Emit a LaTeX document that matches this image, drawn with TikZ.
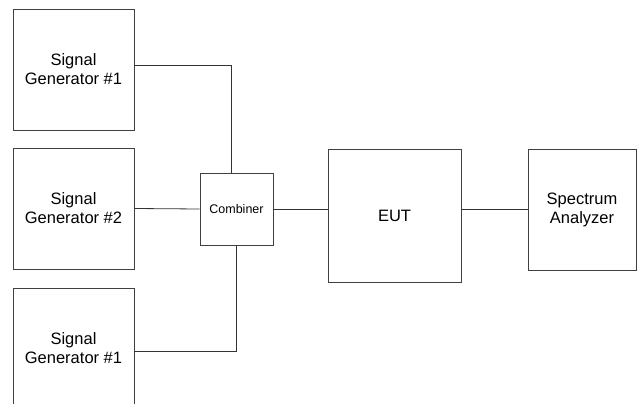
\documentclass[tikz,border=0pt]{standalone}
\usepackage{fontspec}
\setmainfont{Liberation Sans}

\begin{document}
\begin{tikzpicture}[x=1pt, y=-1pt,
      box/.style = {shape=rectangle, draw=black!75, line width=0.8pt,
        align=center, inner sep=0pt,
        font=\fontsize{16.5}{19}\selectfont},
      wire/.style = {draw=black!80, line width=0.8pt}]
      \useasboundingbox (0,0) rectangle (637,404);
      \clip (0,0) rectangle (637,404);
      \node[box, minimum width=121pt, minimum height=121pt] (gen1) at (73.5,69.5) {Signal\\Generator \#1};
      \node[box, minimum width=121pt, minimum height=121pt] (gen2) at (73.5,208.5) {Signal\\Generator \#2};
      \node[box, minimum width=121pt, minimum height=121pt] (gen3) at (73.5,348.5) {Signal\\Generator \#1};
      \node[box, minimum width=73pt, minimum height=72pt,
        font=\fontsize{12.5}{15}\selectfont] (comb) at (236.5,209) {Combiner};
      \node[box, minimum width=133pt, minimum height=133pt] (eut) at (394.5,215.5) {EUT};
      \node[box, minimum width=108pt, minimum height=121pt] (sa) at (582,209.5) {Spectrum\\Analyzer};
      \draw[wire] ([yshift=4.5pt]gen1.east) -| ([xshift=-5.5pt]comb.north);
      \draw[wire] (gen2.east) -- (comb.west);
      \draw[wire] ([yshift=-2.5pt]gen3.east) -| (comb.south);
      \draw[wire] (comb.east) -- (comb.east -| eut.west);
      \draw[wire] (sa.west -| eut.east) -- (sa.west);
  \end{tikzpicture}
\end{document}
